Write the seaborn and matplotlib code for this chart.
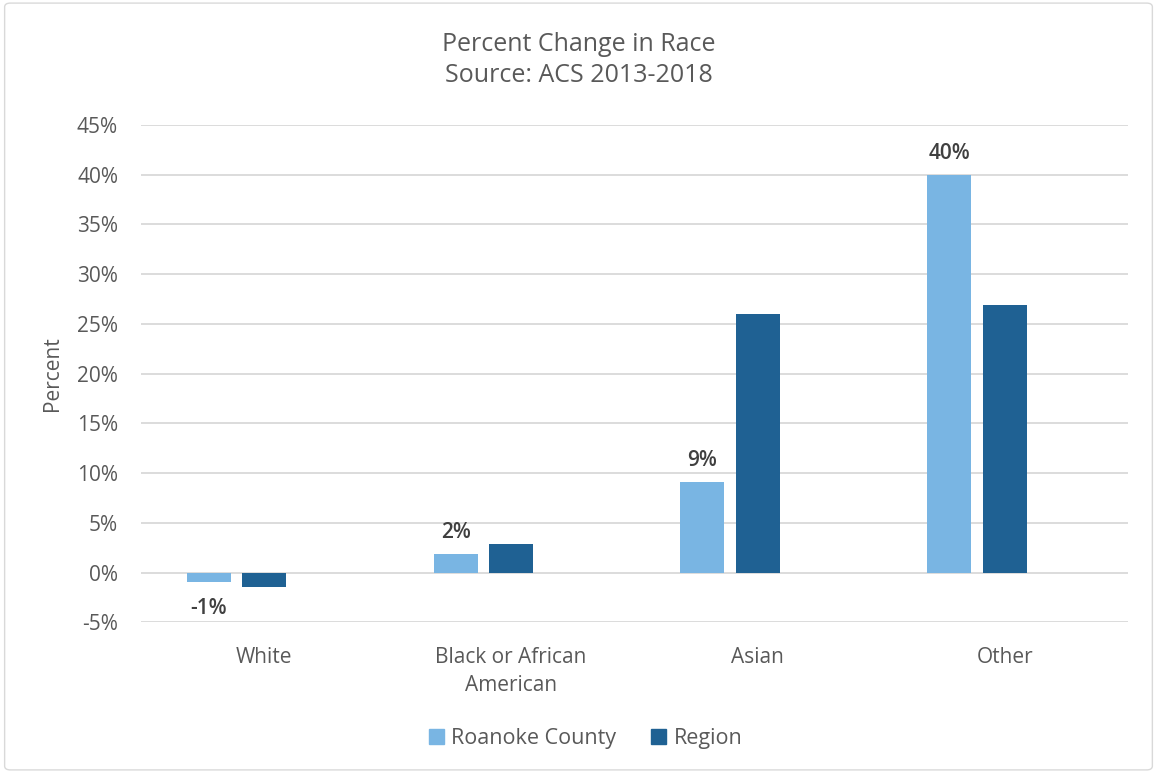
import matplotlib
matplotlib.use("Agg")
import matplotlib.pyplot as plt
import seaborn as sns
import pandas as pd
import numpy as np
from matplotlib.patches import Patch, FancyBboxPatch

categories = ["White", "Black or African\nAmerican", "Asian", "Other"]
roanoke = [-1.0, 1.9, 9.1, 40.0]
region = [-1.45, 2.9, 26.0, 26.9]
roanoke_labels = ["-1%", "2%", "9%", "40%"]
series_names = ["Roanoke County", "Region", "_blank"]
yticks = [-5, 0, 5, 10, 15, 20, 25, 30, 35, 40, 45]

rows = []
for c, a, b in zip(categories, roanoke, region):
    rows.append({"cat": c, "series": "Roanoke County", "val": a})
    rows.append({"cat": c, "series": "Region", "val": b})
    rows.append({"cat": c, "series": "_blank", "val": np.nan})
df = pd.DataFrame(rows)

sns.set_theme(style="white")
plt.rcParams["font.family"] = ["Open Sans", "DejaVu Sans"]
TXT = "#595959"
C1, C2 = "#79B5E3", "#1F6193"

fig = plt.figure(figsize=(11.57, 7.73), dpi=100)
ax = fig.add_axes([0.1219, 0.195, 0.8531, 0.6433])

sns.barplot(data=df, x="cat", y="val", hue="series", hue_order=series_names,
            order=categories, palette=[C1, C2, "#ffffff"], width=0.675, gap=0.21,
            ax=ax, legend=False, errorbar=None, saturation=1, linewidth=0)

ax.set_ylim(-5, 45)
ax.set_xlim(-0.5, 3.5)
ax.set_yticks(yticks)
ax.set_yticklabels([f"{t}%" for t in yticks], color=TXT, fontsize=15, fontweight="medium")
for lab in ax.get_xticklabels():
    lab.set_fontweight("medium")
    lab.set_linespacing(1.45)
ax.tick_params(axis="x", colors=TXT, labelsize=15, length=0, pad=18)
ax.tick_params(axis="y", length=0, pad=16.5)
ax.grid(axis="y", color="#D9D9D9", linewidth=1.3)
ax.set_axisbelow(True)
for s in ax.spines.values():
    s.set_visible(False)
ax.set_xlabel("")
ax.set_ylabel("Percent", color=TXT, fontsize=15, labelpad=10, fontweight="medium")

# data labels for Roanoke County bars
cont = ax.containers[0]
for bar, v, lab in zip(cont, roanoke, roanoke_labels):
    x = bar.get_x() + bar.get_width() / 2
    if v < 0:
        ax.annotate(lab, (x, v), xytext=(0, -11), textcoords="offset points",
                    ha="center", va="top", fontsize=15, color="#404040", fontweight="semibold")
    else:
        ax.annotate(lab, (x, v), xytext=(0, 8), textcoords="offset points",
                    ha="center", va="bottom", fontsize=15, color="#404040", fontweight="semibold")

fig.text(0.5, 0.922, "Percent Change in Race\nSource: ACS 2013-2018", ha="center", va="center",
         fontsize=18, color=TXT, linespacing=1.3, fontweight="medium")

handles = [Patch(color=C1, label="Roanoke County"), Patch(color=C2, label="Region")]
fig.legend(handles=handles, loc="center", bbox_to_anchor=(0.506, 0.045), ncol=2, frameon=False,
           labelcolor=TXT, handlelength=0.7, handleheight=0.7, handletextpad=0.35,
           columnspacing=1.6, prop={"weight": "medium", "size": 15.5})

border = FancyBboxPatch((0.004, 0.004), 0.992, 0.992, boxstyle="round,pad=0,rounding_size=0.005",
                        transform=fig.transFigure, fill=False, edgecolor="#D9D9D9", linewidth=1)
fig.patches.append(border)

fig.savefig("out.png", dpi=100)
